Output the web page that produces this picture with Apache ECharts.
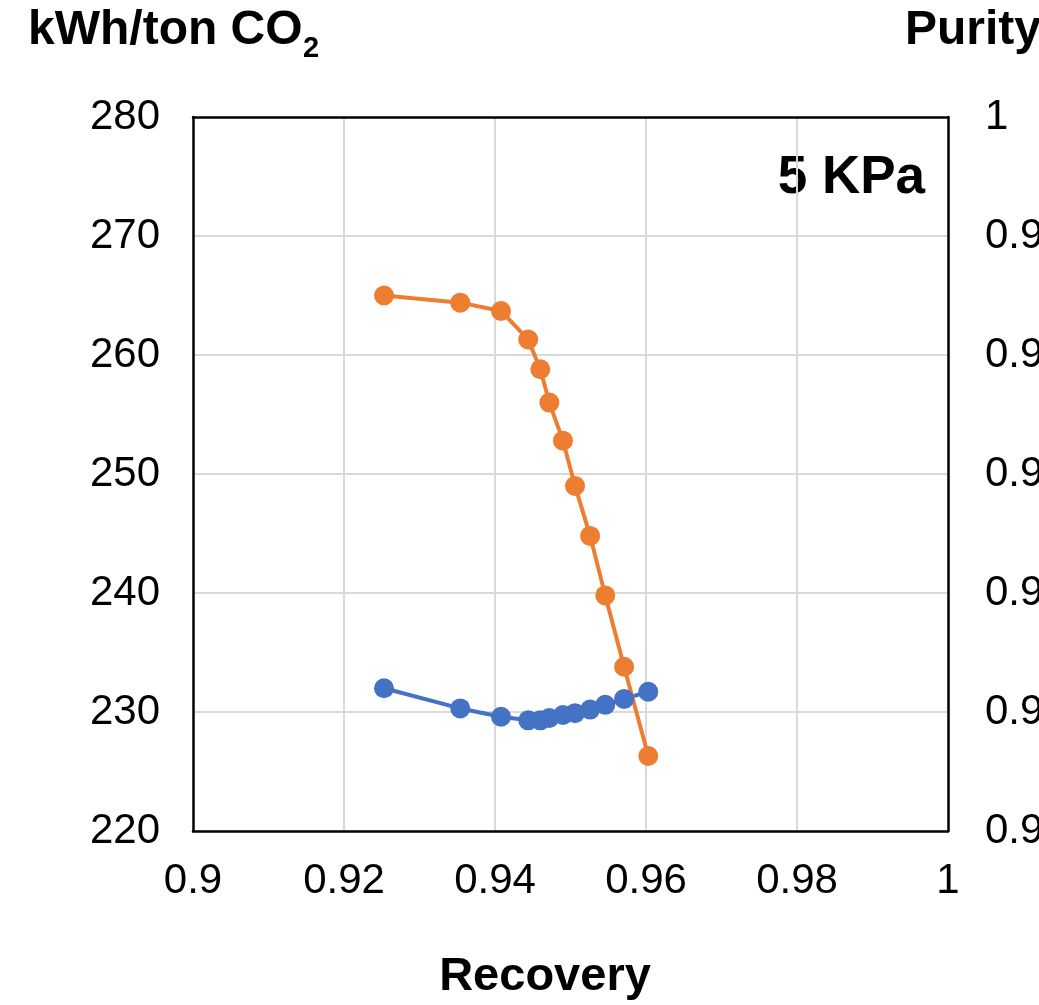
<!DOCTYPE html>
<html>
<head>
<meta charset="utf-8">
<script src="https://cdn.jsdelivr.net/npm/echarts@6/dist/echarts.min.js"></script>
<style>html,body{margin:0;padding:0;background:#fff;}#c{width:1039px;height:1005px;}</style>
</head>
<body>
<div id="c"></div>
<script>
var recovery = [0.9253, 0.9354, 0.9408, 0.9444, 0.9460, 0.9472, 0.9490, 0.9506, 0.9526, 0.9546, 0.9571, 0.9603];
var energy = [232.0, 230.3, 229.6, 229.3, 229.3, 229.5, 229.75, 229.9, 230.2, 230.6, 231.1, 231.7];
var purity = [0.9850, 0.9844, 0.9837, 0.9813, 0.9788, 0.9760, 0.9728, 0.9690, 0.9648, 0.9598, 0.9538, 0.9463];

var FONT = '"Liberation Sans", Arial, sans-serif';
var BORDER = { show: true, lineStyle: { color: '#000', width: 2.5 } };
var SPLIT = { show: true, showMinLine: false, showMaxLine: false, lineStyle: { color: '#d9d9d9', width: 2 } };
var chart = echarts.init(document.getElementById('c'));
chart.setOption({
  animation: false,
  backgroundColor: '#fff',
  grid: { left: 193, right: 91, top: 117, bottom: 174, containLabel: false, outerBoundsMode: 'none' },
  xAxis: [{
    type: 'value', min: 0.9, max: 1, interval: 0.02, position: 'bottom',
    axisLine: BORDER, axisTick: { show: false },
    splitLine: SPLIT,
    axisLabel: { fontFamily: FONT, fontSize: 42, color: '#000', margin: 29 }
  }, {
    type: 'value', min: 0.9, max: 1, interval: 0.02, position: 'top',
    axisLine: BORDER, axisTick: { show: false }, splitLine: { show: false },
    axisLabel: { show: false }
  }],
  yAxis: [{
    type: 'value', min: 220, max: 280, interval: 10, position: 'left',
    axisLine: BORDER, axisTick: { show: false },
    splitLine: SPLIT,
    axisLabel: { fontFamily: FONT, fontSize: 42, color: '#000', margin: 33 }
  }, {
    type: 'value', min: 0.94, max: 1, interval: 0.01, position: 'right',
    axisLine: BORDER, axisTick: { show: false },
    splitLine: { show: false },
    axisLabel: { fontFamily: FONT, fontSize: 42, color: '#000', margin: 37 }
  }],
  series: [{
    type: 'line', yAxisIndex: 0, xAxisIndex: 0,
    data: recovery.map(function (x, i) { return [x, energy[i]]; }),
    symbol: 'circle', symbolSize: 20,
    lineStyle: { color: '#4472C4', width: 4 },
    itemStyle: { color: '#4472C4' }
  }, {
    type: 'line', yAxisIndex: 1, xAxisIndex: 0,
    data: recovery.map(function (x, i) { return [x, purity[i]]; }),
    symbol: 'circle', symbolSize: 20,
    lineStyle: { color: '#ED7D31', width: 4 },
    itemStyle: { color: '#ED7D31' }
  }],
  graphic: [{
    type: 'text', x: 28, y: 31,
    style: { text: 'kWh/ton CO', fontFamily: FONT, fontSize: 48, fontWeight: 'bold', fill: '#000', align: 'left', verticalAlign: 'middle' }
  }, {
    type: 'text', x: 303, y: 49,
    style: { text: '2', fontFamily: FONT, fontSize: 29, fontWeight: 'bold', fill: '#000', align: 'left', verticalAlign: 'middle' }
  }, {
    type: 'text', x: 905, y: 31,
    style: { text: 'Purity', fontFamily: FONT, fontSize: 48, fontWeight: 'bold', fill: '#000', align: 'left', verticalAlign: 'middle' }
  }, {
    type: 'text', x: 925, y: 178,
    style: { text: '5 KPa', fontFamily: FONT, fontSize: 53, fontWeight: 'bold', fill: '#000', align: 'right', verticalAlign: 'middle' }
  }, {
    type: 'text', x: 545, y: 977,
    style: { text: 'Recovery', fontFamily: FONT, fontSize: 47, fontWeight: 'bold', fill: '#000', align: 'center', verticalAlign: 'middle' }
  }]
});
</script>
</body>
</html>
